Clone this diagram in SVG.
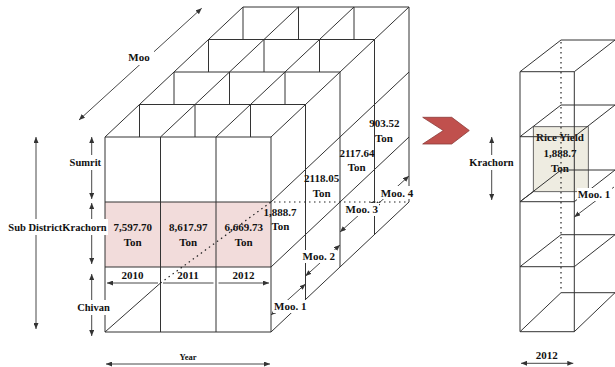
<svg xmlns="http://www.w3.org/2000/svg" width="615" height="367" viewBox="0 0 615 367">
<defs>
<marker id="ah" markerUnits="userSpaceOnUse" markerWidth="6" markerHeight="5" refX="6" refY="2.5" orient="auto-start-reverse"><path d="M0,0 L6,2.5 L0,5 z" fill="#333"/></marker>
<style>
.ln{stroke:#333;stroke-width:1;fill:none}
.dt{stroke:#222;stroke-width:1.2;fill:none;stroke-dasharray:1.5 3.5}
.ar{stroke:#333;stroke-width:0.9;fill:none;marker-start:url(#ah);marker-end:url(#ah)}
.a1{stroke:#333;stroke-width:0.9;fill:none;marker-start:url(#ah)}
.t{font-family:"Liberation Serif","Times New Roman",serif;font-weight:bold;font-size:11px;text-anchor:middle;dominant-baseline:central;fill:#111}
.s{font-size:10.5px}
.bg{fill:#fff}
</style>
</defs>
<rect width="615" height="367" fill="#fff"/>

<g id="pink-row">
<rect x="105" y="202" width="166" height="65" fill="#f2dcdb"/>
</g>

<g id="left-cube" class="ln">
<path d="M105,137V332M160.5,137V332M216,137V332M271,137V332"/>
<path d="M105,137H271M105,202H271M105,267H271M105,332H271"/>
<path d="M139.5,104.5H305.5M174,72H340M208.5,39.5H374.5M243,7H409"/>
<path d="M139.5,104.5V137M195,104.5V137M250.5,104.5V137"/>
<path d="M174,72V104.5M229.5,72V104.5M285,72V104.5"/>
<path d="M208.5,39.5V72M264,39.5V72M319.5,39.5V72"/>
<path d="M243,7V39.5M298.5,7V39.5M354,7V39.5"/>
<path d="M105,137L243,7M160.5,137L298.5,7M216,137L354,7M271,137L409,7"/>
<path d="M305.5,104.5V299.5M340,72V267M374.5,39.5V234.5M409,7V202"/>
<path d="M271,202L409,72M271,267L409,137M271,332L409,202"/>
<path d="M105,332L160.5,283"/>
</g>
<g id="dotted-path">
<path class="dt" d="M160.5,283L271,202H409"/>
</g>

<g id="connectors">
<path class="ar" d="M107,283H158M163,283H213.5M218.5,283H269"/>
<path class="ar" d="M36,137V329"/>
<path class="ar" d="M91.7,137V199"/>
<path class="ar" d="M91.7,203V264"/>
<path class="ar" d="M91.7,274V336"/>
<path class="ar" d="M79,120L201.7,8.3"/>
<path class="ar" d="M106,364H270"/>
<path class="ar" d="M271,315L305.5,284"/>
<path class="ar" d="M305.5,276L340,245"/>
<path class="ar" d="M340,232L374.5,201"/>
<path class="ar" d="M374.5,207L409,176"/>
<path class="ar" d="M491.7,137V200"/>
<path class="ar" d="M521,363.3H573.3"/>
<path class="a1" d="M574.3,217L614,187"/>
</g>

<g id="left-labels">
<rect class="bg" x="126" y="49" width="28" height="16"/>
<text class="t" x="139" y="57">Moo</text>
<rect class="bg" x="69" y="155" width="33" height="15"/>
<text class="t s" x="85.3" y="162.3">Sumrit</text>
<rect class="bg" x="6" y="219" width="102" height="16"/>
<text class="t s" x="57.5" y="227">Sub DistrictKrachorn</text>
<rect class="bg" x="76" y="300" width="35" height="15"/>
<text class="t s" x="93.5" y="307.7">Chivan</text>
<text class="t" style="font-size:8.5px" x="188" y="357">Year</text>
</g>

<g id="cells">
<text class="t" x="132.75" y="227">7,597.70</text>
<text class="t" x="132.75" y="241.7">Ton</text>
<text class="t" x="188.25" y="227">8,617.97</text>
<text class="t" x="188.25" y="241.7">Ton</text>
<text class="t" x="243.75" y="227">6,669.73</text>
<text class="t" x="243.75" y="241.7">Ton</text>
<text class="t" x="132.5" y="275">2010</text>
<text class="t" x="188" y="275">2011</text>
<text class="t" x="243.5" y="275">2012</text>
</g>

<g id="right-face-labels">
<text class="t" x="280" y="211.5">1,888.7</text>
<text class="t" x="280.5" y="226">Ton</text>
<text class="t" x="321.7" y="178.3">2118.05</text>
<text class="t" x="321.7" y="193.3">Ton</text>
<text class="t" x="357" y="152.7">2117.64</text>
<text class="t" x="356.7" y="167.3">Ton</text>
<text class="t" x="384.3" y="123.3">903.52</text>
<text class="t" x="384" y="138.3">Ton</text>
<rect class="bg" x="273" y="300" width="35" height="13"/>
<text class="t" x="290.3" y="306">Moo. 1</text>
<rect class="bg" x="301" y="250" width="35" height="13"/>
<text class="t" x="318.7" y="256">Moo. 2</text>
<rect class="bg" x="344" y="203" width="35" height="13"/>
<text class="t" x="361.7" y="209.3">Moo. 3</text>
<rect class="bg" x="379" y="186" width="36" height="13"/>
<text class="t" x="397" y="192.7">Moo. 4</text>
</g>

<g id="chevron">
<path d="M422.7,117.3H451.7L469.3,130.5L451.7,144H422.7L443.3,130.5Z" fill="#c0504d" stroke="#8c3b38" stroke-width="0.8"/>
</g>

<g id="right-column">
<rect x="533.3" y="126.7" width="55" height="65" fill="#eeece1" stroke="#444" stroke-width="0.8"/>
<text class="t" x="560" y="137.3">Rice Yield</text>
<text class="t" x="560" y="152.7">1,888.7</text>
<text class="t" x="560" y="167.7">Ton</text>
<g class="ln">
<path d="M520,71.7V331.7M574.3,71.7V331.7"/>
<path d="M520,71.7H574.3M520,136.7H574.3M520,201.7H574.3M520,266.7H574.3M520,331.7H574.3"/>
<path d="M561,40H615M561,105H615M561,170H615M561,234.7H615M561,292.7H615"/>
<path d="M520,71.7L561,40M574.3,71.7L615,40M520,136.7L561,105M574.3,136.7L615,105M520,201.7L561,170M574.3,201.7L615,170M520,266.7L561,234.7M574.3,266.7L615,234.7M520,331.7L561,292.7M574.3,331.7L615,292.7"/>
<path d="M520,201.7L533.3,191.7"/>
</g>
<path class="dt" d="M561,42V290"/>
<rect class="bg" x="470" y="155" width="45" height="15"/>
<text class="t s" x="491.5" y="162.3">Krachorn</text>
<rect class="bg" x="577" y="188" width="35" height="13"/>
<text class="t" x="594" y="194">Moo. 1</text>
<text class="t" x="546.7" y="355">2012</text>
</g>
</svg>
